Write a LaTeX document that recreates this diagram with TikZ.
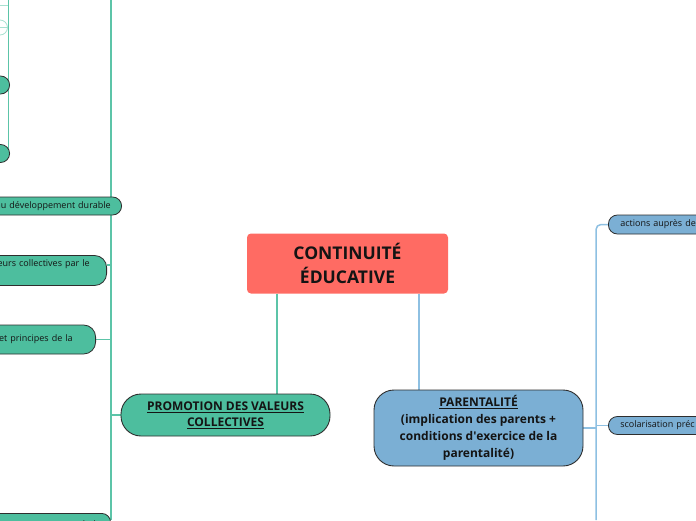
\documentclass[tikz,border=0pt]{standalone}
\usepackage{fontspec}
\setmainfont{Open Sans}
\usetikzlibrary{backgrounds}
\definecolor{cred}{HTML}{FF6B63}
\definecolor{cteal}{HTML}{4DBE9E}
\definecolor{cblue}{HTML}{7BAFD4}
\definecolor{lteal}{HTML}{5CC4A8}
\definecolor{lblue}{HTML}{8EC0E2}
\definecolor{ltealpale}{HTML}{A8E0D0}
\definecolor{cborder}{HTML}{2E2E2E}
\definecolor{ctext}{HTML}{141414}
\begin{document}
\begin{tikzpicture}[x=1pt,y=-1pt,
 mainbox/.style={fill=cred, rounded corners=4pt, minimum width=201pt, minimum height=60pt, font=\fontsize{17.5}{24}\selectfont\bfseries, align=center, text=ctext, inner sep=0pt},
 topic/.style={draw=cborder, line width=0.9pt, rounded corners=20pt, minimum width=209pt, font=\fontsize{12}{17}\selectfont\bfseries, align=center, text=ctext, inner sep=0pt},
 sub/.style={draw=cborder, line width=0.8pt, font=\fontsize{9}{11}\selectfont, text=ctext, inner ysep=0pt, text width=140pt},
 tline/.style={draw=lteal, line width=1.4pt},
 bline/.style={draw=lblue, line width=1.5pt},
 pline/.style={draw=ltealpale, line width=1pt},
]
\useasboundingbox (0,0) rectangle (696,520);

% main nodes
\node[mainbox] (ce) at (347.5,263.5) {CONTINUITÉ\\ÉDUCATIVE};
\node[topic, fill=cteal, minimum height=42pt, font=\fontsize{12}{16}\selectfont\bfseries] (pr) at (225.5,415) {\underline{PROMOTION DES VALEURS}\\\underline{COLLECTIVES}};
\node[topic, fill=cblue, minimum height=76pt] (pa) at (478.5,428) {\underline{PARENTALITÉ}\\(implication des parents +\\conditions d\textquotesingle exercice de la\\parentalité)};

% left sub nodes
\node[sub, fill=cteal, rounded corners=9pt, minimum height=18pt, anchor=east, inner xsep=11pt, align=right] (s1) at (122,206) {au développement durable};
\node[sub, fill=cteal, rounded corners=12pt, minimum height=30pt, anchor=east, inner xsep=17pt, align=right] (s2) at (107,270.5) {eurs collectives par le\\\strut};
\node[sub, fill=cteal, rounded corners=12pt, minimum height=29pt, anchor=east, inner xsep=23pt, align=right] (s3) at (96,339.5) {et principes de la};
\node[sub, fill=cteal, rounded corners=9pt, minimum height=22pt, anchor=north east, inner xsep=10pt, align=right] (s4) at (111,513) {références communes de la};

% top-left collapsed nodes
\node[sub, fill=cteal, rounded corners=9pt, minimum height=18pt, text width=30pt, anchor=east] (c1) at (10,85) {};
\node[sub, fill=cteal, rounded corners=9pt, minimum height=18pt, text width=30pt, anchor=east] (c2) at (10,153.5) {};
\node[circle, draw=ltealpale, line width=0.8pt, minimum size=15pt, inner sep=0pt] (c0) at (0,27.5) {};

% right sub nodes
\node[sub, fill=cblue, rounded corners=9pt, minimum height=19pt, anchor=west, inner xsep=12pt, align=left] (r1) at (608,224.5) {actions auprès de};
\node[sub, fill=cblue, rounded corners=9pt, minimum height=18pt, anchor=west, inner xsep=12pt, align=left] (r2) at (608,425.5) {scolarisation préc};

% trunks
\coordinate (lt) at (111,0);
\coordinate (lb) at (111,520);
\coordinate (tl) at (8,0);
\coordinate (h5) at (0,5);
\coordinate (rt) at (596,520);

\begin{scope}[on background layer]
\draw[tline] ([xshift=30pt]ce.south west) -- ([xshift=30pt]ce.south west |- pr.north);
\draw[bline] ([xshift=-29pt]ce.south east) -- ([xshift=-29pt]ce.south east |- pa.north);
\draw[tline] (lt) -- (lb);
\draw[tline] (pr.west) -- (pr.west -| lt);
\draw[tline] ([yshift=5.5pt]s2.east) -- ([yshift=5.5pt]s2.east -| lt);
\draw[tline] (s3.east) -- (s3.east -| lt);
\draw[draw=lteal, line width=1pt] (tl) -- (tl |- c2.east);
\draw[pline] (h5) -- (h5 -| tl);
\draw[pline] (c0.center) -- (c0.center -| tl);
\draw[bline, rounded corners=5pt] (rt) -- (rt |- r1.west) -- (r1.west);
\draw[bline] (pa.east) -- (pa.east -| rt);
\draw[bline] (rt |- r2.west) -- (r2.west);
\end{scope}
\end{tikzpicture}
\end{document}
